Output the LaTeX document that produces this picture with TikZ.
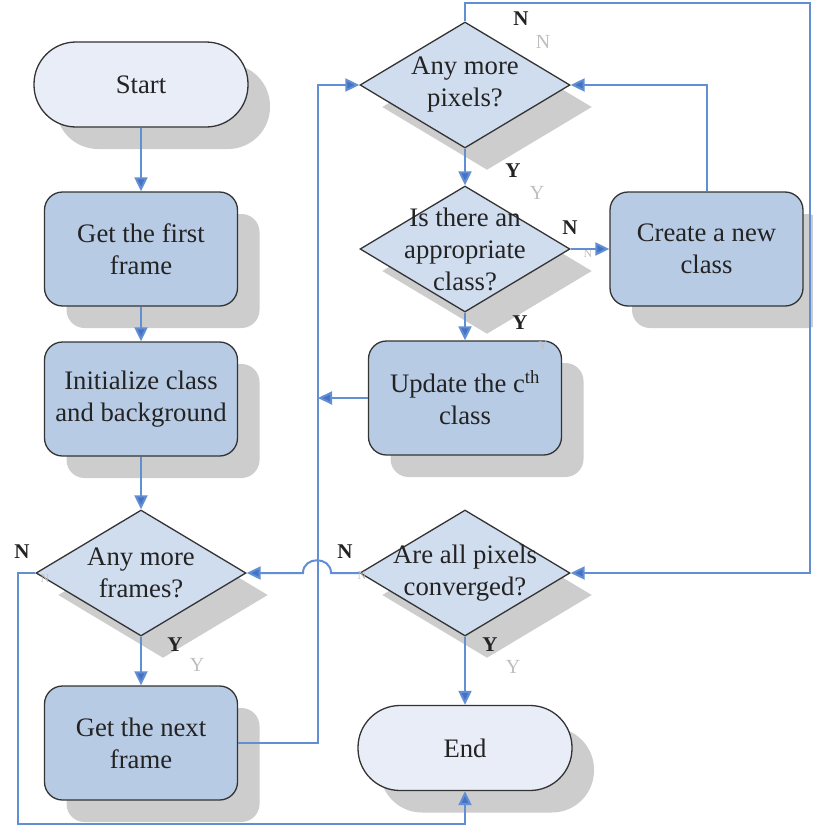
\documentclass[tikz,border=0pt]{standalone}
\usepackage{fontspec}
\setmainfont{Liberation Serif}
\usetikzlibrary{shapes.geometric,arrows.meta,shadows}
\definecolor{termfill}{RGB}{232,237,247}
\definecolor{procfill}{RGB}{184,203,228}
\definecolor{decfill}{RGB}{208,221,238}
\definecolor{shade}{RGB}{205,205,205}
\definecolor{linkblue}{RGB}{98,143,212}
\definecolor{tipblue}{RGB}{68,114,196}
\definecolor{ink}{RGB}{35,35,35}
\definecolor{ghost}{RGB}{190,190,190}

\begin{document}
\begin{tikzpicture}[x=1pt,y=-1pt,
  font=\fontsize{26.7}{32}\selectfont,
  base/.style={draw=black!80, line width=1.3pt, text=ink, align=center, inner sep=0pt,
    drop shadow={shadow xshift=22pt, shadow yshift=-22pt, opacity=1, fill=shade, draw=none}},
  term/.style={base, rectangle, rounded corners=42pt, fill=termfill,
    minimum width=214pt, minimum height=85pt},
  proc/.style={base, rectangle, rounded corners=18pt, fill=procfill,
    minimum width=193pt, minimum height=114pt},
  dec/.style={base, diamond, fill=decfill, minimum width=210pt, minimum height=126pt},
  txt/.style={align=center, text=ink, inner sep=0pt},
  link/.style={draw=linkblue, line width=2pt},
  conn/.style={link, -{Triangle[length=14pt,width=13pt,fill=tipblue]}},
  yn/.style={font=\fontsize{21}{24}\selectfont\bfseries, text=ink, inner sep=0pt},
  ghostyn/.style={font=\fontsize{20}{24}\selectfont, text=ghost, inner sep=0pt},
  ghostsm/.style={font=\fontsize{12}{14}\selectfont, text=ghost, inner sep=0pt},
]
\useasboundingbox (0,0) rectangle (812,827);

% left column
\node[term] (start) at (141,84.5) {Start};
\node[proc] (first) at (141,249) {Get the first\\frame};
\node[proc] (init) at (141,399) {Initialize class\\and background};
\node[dec] (frames) at (141,573) {};
\node[txt] (framesT) at (frames) {Any more\\frames?};
\node[proc] (next) at (141,743) {Get the next\\frame};

% right column
\node[dec] (pixels) at (465,85) {};
\node[txt] (pixelsT) at (pixels) {Any more\\pixels?};
\node[dec] (appr) at (465,249) {};
\node[txt] (apprT) at (appr) {Is there an\\appropriate\\class?};
\node[proc] (create) at (706.5,249) {Create a new\\class};
\node[proc] (update) at (465,398) {Update the c\textsuperscript{th}\\class};
\node[dec] (conv) at (465,573) {};
\node[txt] (convT) at (conv) {Are all pixels\\converged?};
\node[term] (end) at (465,748) {End};

% faint duplicate branch labels
\node[ghostyn] (g1) at (543,42) {N};
\node[ghostyn] (g2) at (537,193) {Y};
\node[ghostsm] (g3) at (588,254) {N};
\node[ghostsm] (g4) at (543,346) {Y};
\node[ghostsm] (g5) at (362,576) {N};
\node[ghostsm] (g6) at (45,579) {N};
\node[ghostyn] (g7) at (197,665) {Y};
\node[ghostyn] (g8) at (513,667) {Y};

% junction points
\coordinate (jL) at (318,85);
\coordinate (jU) at (318,398);
\coordinate (hopR) at (331,573);
\coordinate (hopL) at (303,573);
\coordinate (topR) at (810,3);
\coordinate (botL) at (18,824);

% connectors
\draw[conn] (start.south) -- (first.north);
\draw[conn] (first.south) -- (init.north);
\draw[conn] (init.south) -- (frames.north);
\draw[conn] (frames.south) -- (next.north);
\draw[conn] (next.east) -| (jL) -- (pixels.west);
\draw[conn] (pixels.south) -- (appr.north);
\draw[conn] (appr.east) -- (create.west);
\draw[conn] (create.north) |- (pixels.east);
\draw[conn] (appr.south) -- (update.north);
\draw[conn] (update.west) -- (jU);
\draw[conn] (pixels.north) |- (topR) |- (conv.east);
\draw[conn] (conv.west) -- (hopR) .. controls +(0,-17) and +(0,-17) .. (hopL) -- (frames.east);
\draw[conn] (conv.south) -- (end.north);
\draw[conn] (frames.west) -| (botL) -| (end.south);

% branch labels
\node[yn] (l1) at (521,19) {N};
\node[yn] (l2) at (513,171) {Y};
\node[yn] (l3) at (570,228) {N};
\node[yn] (l4) at (520,323) {Y};
\node[yn] (l5) at (345,552) {N};
\node[yn] (l6) at (22,552) {N};
\node[yn] (l7) at (175,645) {Y};
\node[yn] (l8) at (490,645) {Y};
\end{tikzpicture}
\end{document}
